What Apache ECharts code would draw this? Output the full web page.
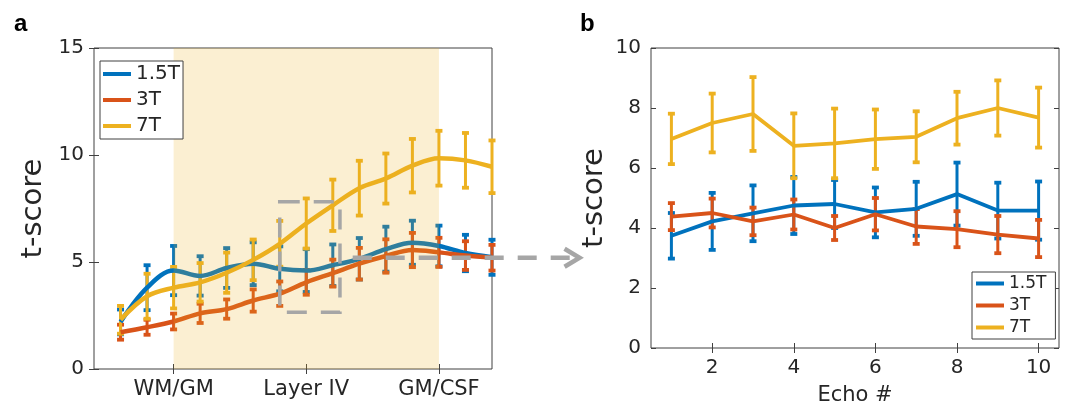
<!DOCTYPE html>
<html><head><meta charset="utf-8">
<script src="https://cdn.jsdelivr.net/npm/echarts@6/dist/echarts.min.js"></script>
<style>html,body{margin:0;padding:0;background:#fff}#c{width:1068px;height:411px}</style>
</head><body><div id="c"></div>
<script>
// ---------- data ----------
const seriesNames = ['1.5T', '3T', '7T'];
const colors = ['#0072BD', '#D95319', '#EDB120'];

// Panel a (cortical depth profile)
const depthPos = [1, 2, 3, 4, 5, 6, 7, 8, 9, 10, 11, 12, 13, 14, 15];
const depthTickPos = [3, 8, 13];
const depthTickLabels = ['WM/GM', 'Layer IV', 'GM/CSF'];
const a15Mean = [2.2, 3.8, 4.6, 4.35, 4.72, 4.92, 4.68, 4.6, 4.85, 5.15, 5.6, 5.9, 5.75, 5.42, 5.22];
const a15Err  = [0.58, 1.05, 1.15, 0.92, 0.93, 1.0, 1.05, 1.0, 0.97, 0.97, 1.05, 1.03, 0.95, 0.85, 0.82];
const a3Mean  = [1.72, 1.95, 2.22, 2.6, 2.8, 3.2, 3.52, 4.05, 4.48, 4.92, 5.28, 5.56, 5.45, 5.3, 5.2];
const a3Err   = [0.35, 0.35, 0.37, 0.45, 0.45, 0.52, 0.57, 0.58, 0.63, 0.74, 0.78, 0.8, 0.68, 0.67, 0.6];
const a7Mean  = [2.3, 3.4, 3.8, 4.05, 4.5, 5.1, 5.85, 6.8, 7.65, 8.45, 8.9, 9.5, 9.85, 9.75, 9.45];
const a7Err   = [0.65, 1.05, 0.97, 0.9, 0.94, 0.95, 1.07, 1.17, 1.2, 1.28, 1.17, 1.25, 1.28, 1.28, 1.23];
const layerBand = [3, 13];            // shaded region (WM/GM .. GM/CSF)
const zoomBox = [7, 9.27, 2.65, 7.82]; // x0, x1, y0, y1 of dashed box
const arrowLine = [9.75, 5.2, 18.3];   // x start, y, x end (arrow to panel b)

// Panel b (echo number)
const echoNum = [1, 2, 3, 4, 5, 6, 7, 8, 9, 10];
const echoTicks = [2, 4, 6, 8, 10];
const b15Mean = [3.74, 4.22, 4.49, 4.75, 4.8, 4.52, 4.64, 5.13, 4.58, 4.58];
const b15Err  = [0.76, 0.95, 0.93, 0.95, 0.8, 0.83, 0.9, 1.05, 0.93, 0.97];
const b3Mean  = [4.38, 4.5, 4.22, 4.45, 4.0, 4.46, 4.05, 3.96, 3.78, 3.65];
const b3Err   = [0.45, 0.48, 0.46, 0.5, 0.4, 0.54, 0.58, 0.6, 0.62, 0.62];
const b7Mean  = [6.97, 7.5, 7.8, 6.74, 6.82, 6.96, 7.04, 7.66, 8.0, 7.68];
const b7Err   = [0.84, 0.98, 1.23, 1.08, 1.16, 0.99, 0.85, 0.88, 0.92, 1.0];

// ---------- chart ----------
const FONT = 'DejaVu Sans';
const TXT = '#262626';
const AX = '#404040';
const chart = echarts.init(document.getElementById('c'), null, {renderer: 'canvas'});

function errRender(color, capHalf, lw) {
  return function (params, api) {
    const x = api.value(0), m = api.value(1), e = api.value(2);
    const top = api.coord([x, m + e]), bot = api.coord([x, m - e]);
    const style = {stroke: color, lineWidth: lw, fill: null, lineCap: 'butt'};
    const capStyle = {stroke: color, lineWidth: lw + 0.8, fill: null, lineCap: 'butt'};
    return {type: 'group', children: [
      {type: 'line', shape: {x1: top[0], y1: top[1], x2: bot[0], y2: bot[1]}, style: style},
      {type: 'line', shape: {x1: top[0] - capHalf, y1: top[1], x2: top[0] + capHalf, y2: top[1]}, style: capStyle},
      {type: 'line', shape: {x1: bot[0] - capHalf, y1: bot[1], x2: bot[0] + capHalf, y2: bot[1]}, style: capStyle}
    ]};
  };
}

function lineSeries(name, xs, ys, color, xi, yi, smooth, lw) {
  return {type: 'line', name: name, xAxisIndex: xi, yAxisIndex: yi,
    data: xs.map((x, i) => [x, ys[i]]), showSymbol: false, symbol: 'none',
    smooth: smooth, lineStyle: {color: color, width: lw}, itemStyle: {color: color},
    z: 2, silent: true};
}
function errSeries(name, xs, ys, es, color, xi, yi, cap, lw) {
  return {type: 'custom', name: name + ' err', xAxisIndex: xi, yAxisIndex: yi,
    data: xs.map((x, i) => [x, ys[i], es[i]]), encode: {x: 0, y: 1},
    renderItem: errRender(color, cap, lw), clip: false, z: 2, silent: true};
}

const tickStyle = {show: true, inside: true, length: 5, lineStyle: {color: AX, width: 1}};
const labelStyle = {color: TXT, fontSize: 20, fontFamily: FONT};

const series = [];
const aMeans = [a15Mean, a3Mean, a7Mean], aErrs = [a15Err, a3Err, a7Err];
const bMeans = [b15Mean, b3Mean, b7Mean], bErrs = [b15Err, b3Err, b7Err];
for (let k = 0; k < 3; k++) {
  series.push(lineSeries(seriesNames[k], depthPos, aMeans[k], colors[k], 0, 0, 0.35, 4.5));
  series.push(errSeries(seriesNames[k], depthPos, aMeans[k], aErrs[k], colors[k], 0, 0, 3.5, 3));
  series.push(lineSeries(seriesNames[k], echoNum, bMeans[k], colors[k], 2, 2, false, 3.8));
  series.push(errSeries(seriesNames[k], echoNum, bMeans[k], bErrs[k], colors[k], 2, 2, 3.5, 3));
}
// shaded layer band (drawn over the lines, translucent)
series.push({type: 'custom', name: 'band', xAxisIndex: 0, yAxisIndex: 0,
  data: [layerBand], z: 3, silent: true,
  renderItem: function (params, api) {
    const p0 = api.coord([api.value(0), 15]), p1 = api.coord([api.value(1), 0]);
    return {type: 'rect', shape: {x: p0[0], y: p0[1], width: p1[0] - p0[0], height: p1[1] - p0[1]},
      style: {fill: 'rgba(237,177,32,0.2)'}};
  }});
// dashed zoom box
series.push({type: 'custom', name: 'box', xAxisIndex: 0, yAxisIndex: 0,
  data: [zoomBox], z: 5, silent: true, clip: false,
  renderItem: function (params, api) {
    const p0 = api.coord([api.value(0), api.value(3)]), p1 = api.coord([api.value(1), api.value(2)]);
    return {type: 'rect', shape: {x: p0[0], y: p0[1], width: p1[0] - p0[0], height: p1[1] - p0[1]},
      style: {fill: null, stroke: '#A6A6A6', lineWidth: 3.5, lineDash: [20, 14]}};
  }});
// dashed arrow to panel b
series.push({type: 'custom', name: 'arrow', xAxisIndex: 0, yAxisIndex: 0,
  data: [arrowLine], z: 5, silent: true, clip: false,
  renderItem: function (params, api) {
    const s = api.coord([api.value(0), api.value(1)]), e = api.coord([api.value(2), api.value(1)]);
    const st = {stroke: '#A6A6A6', lineWidth: 4.5, fill: null};
    return {type: 'group', children: [
      {type: 'line', shape: {x1: s[0], y1: s[1], x2: e[0] - 3, y2: e[1]},
        style: {stroke: '#A6A6A6', lineWidth: 4.5, lineDash: [19, 14]}},
      {type: 'polyline', shape: {points: [[e[0] - 15, e[1] - 9], [e[0], e[1]], [e[0] - 15, e[1] + 9]]},
        style: Object.assign({lineJoin: 'miter'}, st)}
    ]};
  }});

const option = {
  animation: false,
  backgroundColor: '#fff',
  textStyle: {fontFamily: FONT},
  title: [
    {text: 'a', left: 9, top: 7, textStyle: {fontSize: 24, fontWeight: 'bold', fontFamily: 'Liberation Sans', color: '#000'}},
    {text: 'b', left: 575, top: 7, textStyle: {fontSize: 24, fontWeight: 'bold', fontFamily: 'Liberation Sans', color: '#000'}}
  ],
  grid: [
    {left: 94, top: 48, width: 398, height: 321, show: true, borderColor: AX, borderWidth: 1, backgroundColor: 'transparent'},
    {left: 651, top: 48, width: 408, height: 303, show: true, borderColor: AX, borderWidth: 1, backgroundColor: 'transparent'}
  ],
  legend: [
    {data: seriesNames, orient: 'vertical', left: 100, top: 61, icon: 'rect', itemWidth: 28, itemHeight: 4,
      itemGap: 6, padding: [3, 3, 3, 3], borderColor: AX, borderWidth: 1, backgroundColor: '#fff',
      selectedMode: false, textStyle: {fontSize: 20, color: TXT, fontFamily: FONT, lineHeight: 20}},
    {data: seriesNames, orient: 'vertical', left: 972, top: 272, icon: 'rect', itemWidth: 28, itemHeight: 4,
      itemGap: 5, padding: [3, 9, 3, 4], borderColor: AX, borderWidth: 1, backgroundColor: '#fff',
      selectedMode: false, textStyle: {fontSize: 17, color: TXT, fontFamily: FONT, lineHeight: 17}}
  ],
  xAxis: [
    {type: 'value', gridIndex: 0, min: 0, max: 15, position: 'bottom',
      axisLine: {show: false}, splitLine: {show: false},
      axisTick: Object.assign({customValues: depthTickPos}, tickStyle),
      axisLabel: {customValues: depthTickPos, margin: 10, color: TXT, fontSize: 21, fontFamily: FONT,
        formatter: v => depthTickLabels[depthTickPos.indexOf(Math.round(v))] || ''}},
    {type: 'value', gridIndex: 0, min: 0, max: 15, position: 'top',
      axisLine: {show: false}, splitLine: {show: false}, axisLabel: {show: false},
      axisTick: Object.assign({customValues: depthTickPos}, tickStyle)},
    {type: 'value', gridIndex: 1, min: 0.5, max: 10.5, position: 'bottom',
      name: 'Echo #', nameLocation: 'middle', nameGap: 37,
      nameTextStyle: {fontSize: 21, color: TXT, fontFamily: FONT},
      axisLine: {show: false}, splitLine: {show: false},
      axisTick: Object.assign({customValues: echoTicks}, tickStyle),
      axisLabel: Object.assign({customValues: echoTicks, margin: 10}, labelStyle)},
    {type: 'value', gridIndex: 1, min: 0.5, max: 10.5, position: 'top',
      axisLine: {show: false}, splitLine: {show: false}, axisLabel: {show: false},
      axisTick: Object.assign({customValues: echoTicks}, tickStyle)}
  ],
  yAxis: [
    {type: 'value', gridIndex: 0, min: 0, max: 15, interval: 5, position: 'left',
      name: 't-score', nameLocation: 'middle', nameGap: 46,
      nameTextStyle: {fontSize: 29, color: TXT, fontFamily: FONT},
      axisLine: {show: false}, splitLine: {show: false}, axisTick: tickStyle,
      axisLabel: Object.assign({margin: 10}, labelStyle)},
    {type: 'value', gridIndex: 0, min: 0, max: 15, interval: 5, position: 'right',
      axisLine: {show: false}, splitLine: {show: false}, axisTick: tickStyle, axisLabel: {show: false}},
    {type: 'value', gridIndex: 1, min: 0, max: 10, interval: 2, position: 'left',
      name: 't-score', nameLocation: 'middle', nameGap: 42,
      nameTextStyle: {fontSize: 29, color: TXT, fontFamily: FONT},
      axisLine: {show: false}, splitLine: {show: false}, axisTick: tickStyle,
      axisLabel: Object.assign({margin: 10}, labelStyle)},
    {type: 'value', gridIndex: 1, min: 0, max: 10, interval: 2, position: 'right',
      axisLine: {show: false}, splitLine: {show: false}, axisTick: tickStyle, axisLabel: {show: false}}
  ],
  series: series
};
chart.setOption(option);
</script></body></html>
